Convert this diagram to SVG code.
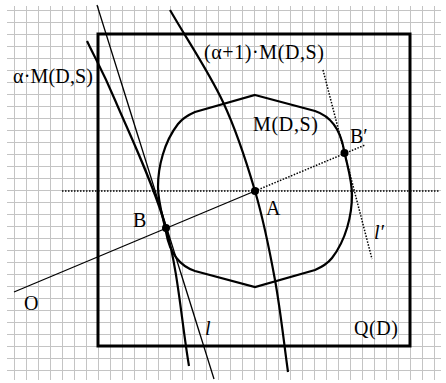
<svg xmlns="http://www.w3.org/2000/svg" width="446" height="383" viewBox="0 0 446 383">
<style>
.grid{stroke:#c4c4c4;stroke-width:1;fill:none}
.thick{stroke:#000;stroke-width:2.2;fill:none}
.thin{stroke:#000;stroke-width:1.3;fill:none}
.dot{stroke:#000;stroke-width:1.5;stroke-dasharray:1.5 1.5;fill:none}
.lbl{font-family:"Liberation Serif","Times New Roman",serif;font-size:20px;fill:#000}
.it{font-style:italic}
</style>
<rect width="446" height="383" fill="#fff"/>
<g id="grid" class="grid">
<path d="M14.5 6V380M26.5 6V380M38.5 6V380M50.5 6V380M62.5 6V380M74.5 6V380M86.5 6V380M98.5 6V380M110.5 6V380M122.5 6V380M134.5 6V380M146.5 6V380M158.5 6V380M170.5 6V380M182.5 6V380M194.5 6V380M206.5 6V380M218.5 6V380M230.5 6V380M242.5 6V380M254.5 6V380M266.5 6V380M278.5 6V380M290.5 6V380M302.5 6V380M314.5 6V380M326.5 6V380M338.5 6V380M350.5 6V380M362.5 6V380M374.5 6V380M386.5 6V380M398.5 6V380M410.5 6V380M422.5 6V380M434.5 6V380"/>
<path d="M7 10.5H441M7 22.5H441M7 34.5H441M7 46.5H441M7 58.5H441M7 70.5H441M7 82.5H441M7 94.5H441M7 106.5H441M7 118.5H441M7 130.5H441M7 142.5H441M7 154.5H441M7 166.5H441M7 178.5H441M7 190.5H441M7 202.5H441M7 214.5H441M7 226.5H441M7 238.5H441M7 250.5H441M7 262.5H441M7 274.5H441M7 286.5H441M7 298.5H441M7 310.5H441M7 322.5H441M7 334.5H441M7 346.5H441M7 358.5H441M7 370.5H441"/>
</g>
<g id="Q">
<rect x="98" y="34" width="312" height="312" fill="none" stroke="#000" stroke-width="3"/>
<text class="lbl" x="354" y="335" textLength="44">Q(D)</text>
</g>
<g id="M">
<path class="thick" stroke-width="2.5" d="M255,95 L315,111 C333,117 341,133 344,150 C347,165 352,180 352,195 C352,215 346,240 332,258 C328,263 322,267 315,270 L255,287 L195,271 C177,265 169,249 166,232 C163,217 158,202 158,187 C158,167 164,142 178,124 C182,119 188,115 195,112 Z"/>
<text class="lbl" x="253" y="131" textLength="65">M(D,S)</text>
</g>
<g id="aM">
<path class="thick" d="M87,41 C96.3,60.7 101.8,68.8 115,100 C128.2,131.2 153.7,183.7 166,228 C178.3,272.3 181.3,320 189,366"/>
<text class="lbl" x="13" y="83" textLength="80">α·M(D,S)</text>
</g>
<g id="a1M">
<path class="thick" d="M170,10 C187.7,40.7 208.8,71.8 223,102 C237.2,132.2 246.3,161.3 255,191 C263.7,220.7 269.5,249.8 275,280 C280.5,310.2 283.7,341.3 288,372"/>
<text class="lbl" x="204" y="59" textLength="120">(α+1)·M(D,S)</text>
</g>
<g id="connectors">
<line class="dot" x1="62" y1="191" x2="440" y2="191"/>
<line class="thin" stroke-width="1.6" x1="14" y1="292" x2="255" y2="191"/>
<line class="dot" x1="255" y1="191" x2="365" y2="145"/>
<line class="thin" x1="97" y1="5" x2="214" y2="379"/>
<line class="dot" x1="323" y1="70" x2="372" y2="259"/>
</g>
<g id="O"><text class="lbl" x="24" y="310">O</text></g>
<g id="A"><circle cx="255" cy="191" r="4"/><text class="lbl" x="266" y="215">A</text></g>
<g id="B"><circle cx="166" cy="228" r="4"/><text class="lbl" x="133" y="227">B</text></g>
<g id="Bp"><circle cx="344.5" cy="153" r="4"/><text class="lbl" x="350" y="143">B′</text></g>
<g id="l"><text class="lbl it" x="205" y="335">l</text></g>
<g id="lp"><text class="lbl it" x="374" y="239">l′</text></g>
</svg>
